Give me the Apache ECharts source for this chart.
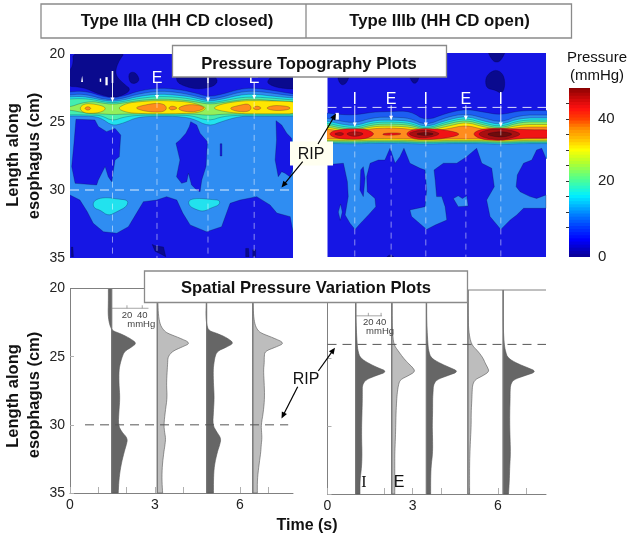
<!DOCTYPE html>
<html><head><meta charset="utf-8">
<style>html,body{margin:0;padding:0;background:#fff}#c{width:627px;height:537px}</style>
<script src="https://cdn.jsdelivr.net/npm/echarts@6/dist/echarts.min.js"></script>
</head><body><div id="c"></div>
<script>
// ---------- contour colours, low to high pressure ----------
const navy='#0a0a8e', blue='#1616e4', mid='#1c5ef2', light='#2f8df2', cyan='#22e2ee', teal='#44eeb0',
      lime='#92f05c', yellow='#ffe600', orange='#ff8c1e', red='#f01414', dark='#a81010', darkest='#6e0c0c';
const FONT='"Liberation Sans",Arial,sans-serif';

// ---------- Type IIIa topography: contour boundaries, depth (cm) at each time (s) ----------
const aTimes=[0,.4,.8,1.1,1.5,1.9,2.4,3.1,3.7,4.3,4.9,5.4,6,6.5,7.1,7.87];
const aMidTop=[22.79,22.72,22.87,23.09,23.24,23.09,22.72,22.5,22.57,22.79,23.16,22.94,22.57,22.5,22.65,22.94];
const aLightTop=[23.01,22.94,23.09,23.28,23.38,23.24,22.94,22.72,22.79,23.01,23.35,23.16,22.79,22.72,22.87,23.09];
const aCyanTop=[23.16,23.12,23.24,23.38,23.49,23.38,23.12,22.94,23.01,23.16,23.49,23.31,23.01,22.94,23.09,23.24];
const aTealTop=[23.31,23.27,23.35,23.49,23.6,23.49,23.27,23.12,23.16,23.31,23.6,23.46,23.2,23.16,23.24,23.38];
const aLimeTop=[23.9,23.6,23.49,23.6,23.71,23.6,23.42,23.31,23.35,23.46,23.71,23.57,23.38,23.31,23.42,23.53];
const aLimeLow=[24.12,24.28,24.4,24.4,24.46,24.42,24.4,24.4,24.4,24.4,24.52,24.42,24.4,24.4,24.4,24.4];
const aTealLow=[24.47,24.47,24.5,24.52,24.93,24.63,24.5,24.5,24.5,24.52,24.93,24.58,24.5,24.5,24.5,24.5];
const aCyanLow=[24.56,24.56,24.58,24.71,25.29,25.07,24.62,24.58,24.58,24.71,25.33,24.93,24.58,24.58,24.58,24.58];
const aLightLow=[[0,30.37],[.35,30.74],[.61,31.6],[.82,32.45],[1.18,33.07],[1.65,33.18],[2.06,32.7],[2.35,31.7],[2.59,30.86],[3.06,30.74],[3.41,30.49],[3.77,30.74],[3.98,31.7],[4.24,32.57],[4.82,33.07],[5.35,32.7],[5.65,30.98],[6,30.74],[6.59,30.49],[7.06,31.1],[7.3,31.7],[7.77,31.96],[7.87,33.07]];
const aNavy=[
 [[.09,19.7],[2,19.7],[1.67,20.69],[1.59,21.54],[1.88,22.16],[2.18,22.65],[1.76,23.14],[1.41,23.19],[.94,22.89],[.47,22.45],[-.2,22.35],[-.2,21.54],[.12,20.93]],
 [[2.06,21.4],[2.3,21.3],[2.47,21.9],[2.3,22.2],[2.1,22.1]],
 [[3.76,21.5],[5.06,21.5],[5.24,22.03],[5,22.45],[4.47,22.6],[4,22.35],[3.76,22.03]],
 [[6.94,22.03],[7.18,21.5],[8.1,21.5],[8.1,22.6],[7.41,22.52],[7.06,22.28]]
];
const aNavyStreaks=[
 [[.05,34.2],[.1,34.2],[.12,34.9],[.05,34.9]],
 [[2.9,34.0],[3.0,34.1],[3.3,34.2],[3.38,34.9],[3.2,34.7],[3.0,34.5]],
 [[6.2,34.3],[6.3,34.3],[6.32,34.9],[6.2,34.9]],
 [[6.45,34.4],[6.55,34.4],[6.55,34.9],[6.45,34.9]]
];
const aBlueIslands=[
 [[.21,24.8],[.88,24.85],[1,25.34],[1.29,25.71],[1.59,25.47],[1.79,25.96],[1.74,27.55],[1.59,27.79],[1.47,29.39],[1.35,29.02],[1.24,28.28],[1,29.26],[.94,29.63],[.18,29.51],[.06,28.28],[.14,26.57]],
 [[4.26,24.98],[4.47,25.22],[4.59,25.83],[4.85,26.45],[4.8,28.28],[4.65,29.26],[4.59,30.12],[4.47,30],[4.29,29.63],[4.18,28.77],[4.12,29.39],[3.94,29.51],[3.76,29.02],[3.88,27.79],[3.74,26.57],[3.88,26.32],[4.09,25.83],[4.21,25.34]],
 [[7.27,24.9],[7.47,25.22],[7.65,25.83],[7.82,26.2],[7.9,28.28],[7.76,29.02],[7.59,28.77],[7.47,28.65],[7.35,29.02],[7.24,27.79],[7.29,26.32]],
 [[5.3,26.6],[5.36,26.6],[5.36,27.5],[5.3,27.5]]
];
const aCyanIslands=[
 [[.8,30.98],[.94,30.66],[1.29,30.54],[1.65,30.66],[2.06,30.74],[2,31.23],[1.65,31.6],[1.35,31.91],[1.06,31.47],[.86,31.35]],
 [[4.18,30.74],[4.5,30.6],[5,30.7],[5.29,30.75],[5.27,31.1],[5,31.3],[4.7,31.6],[4.4,31.4],[4.2,31.15]]
];
const aSpecks=[
 [[.39,22.05],[.43,21.6],[.46,22.05]],
 [[1.05,21.8],[1.1,21.8],[1.1,22.05],[1.05,22.05]],
 [[1.25,21.7],[1.33,21.7],[1.33,22.3],[1.25,22.3]]
];
const aYellow=[
 [[.32,24],[.5,23.64],[.88,23.68],[1.24,23.88],[1.24,24.14],[.95,24.36],[.5,24.36]],
 [[1.66,24],[2,23.62],[2.47,23.5],[3.07,23.42],[3.71,23.46],[4.24,23.54],[4.66,23.8],[4.82,24],[4.58,24.3],[4.06,24.38],[3.18,24.4],[2.47,24.38],[2,24.3]],
 [[5.02,24],[5.32,23.68],[6,23.46],[6.5,23.42],[7.13,23.46],[8.1,23.5],[8.1,24.4],[7.13,24.4],[6.5,24.4],[6,24.38],[5.4,24.22]]
];
const aOrange=[
 [[.5,24],[.63,23.84],[.76,24],[.63,24.16]],
 [[2.26,23.97],[2.6,23.76],[3.07,23.6],[3.36,23.72],[3.42,24.08],[3.22,24.29],[2.7,24.24]],
 [[3.46,23.97],[3.6,23.8],[3.82,23.97],[3.6,24.16]],
 [[3.78,23.97],[4.16,23.7],[4.58,23.76],[4.78,24],[4.42,24.26],[3.98,24.22]],
 [[5.6,23.97],[6,23.76],[6.3,23.64],[6.42,23.97],[6.28,24.26],[5.85,24.22]],
 [[6.43,23.97],[6.6,23.8],[6.78,23.97],[6.6,24.14]],
 [[6.88,23.97],[7.2,23.76],[7.76,23.86],[7.76,24.1],[7.2,24.18]]
];

// ---------- Type IIIb topography ----------
const bTimes=[0,.44,.96,1.61,2.24,2.91,3.46,4.2,4.87,5.49,6.1,6.78,7.69];
const bMidTop=[24.41,24.52,24.56,24.34,24.3,24.26,25,24.41,24.12,24.34,24.56,24.23,24.23];
const bLightTop=[24.78,25,25.15,24.74,24.71,24.78,25.33,24.71,24.45,24.78,25.11,24.56,24.56];
const bCyanTop=[25,25.22,25.37,24.96,24.93,25,25.48,24.93,24.63,25,25.29,24.78,24.78];
const bTealTop=[25.15,25.37,25.51,25.11,25.07,25.15,25.59,25.07,24.78,25.15,25.44,24.93,24.93];
const bLimeTop=[25.29,25.51,25.63,25.26,25.22,25.29,25.66,25.22,24.93,25.29,25.55,25.07,25.07];
const bYellowTop=[25.44,25.63,25.7,25.4,25.37,25.44,25.74,25.4,25.07,25.44,25.63,25.26,25.26];
const bOrangeTop=[25.59,25.74,25.77,25.55,25.51,25.59,25.81,25.59,25.29,25.63,25.7,25.44,25.44];
const bOrangeLow=[26.32,26.32,26.34,26.29,26.29,26.32,26.36,26.32,26.32,26.32,26.4,26.32,26.32];
const bYellowLow=[26.43,26.43,26.45,26.41,26.41,26.43,26.47,26.43,26.43,26.43,26.5,26.43,26.43];
const bLimeLow=[26.52,26.52,26.54,26.5,26.5,26.52,26.56,26.52,26.52,26.52,26.58,26.52,26.52];
const bTealLow=[26.59,26.59,26.61,26.57,26.57,26.59,26.62,26.59,26.59,26.59,26.64,26.59,26.59];
const bCyanLow=[26.66,26.66,26.68,26.64,26.64,26.66,26.7,26.66,26.66,26.66,26.72,26.66,26.66];
const bLightLow=[[0,28.24],[.26,28.16],[.56,28.11],[.7,29.46],[.73,30.56],[.62,31.91],[.79,32.52],[.97,32.97],[1.14,32.57],[1.44,31.91],[1.7,31.3],[1.67,30.69],[1.4,30.2],[1.38,29.09],[1.5,28.11],[1.79,27.87],[2.02,27.87],[2.2,27.01],[2.38,28.11],[2.55,27.62],[2.69,27.01],[2.9,28.11],[3.26,28.48],[3.43,28.6],[3.49,30.07],[3.43,31.3],[2.9,31.54],[2.96,32.03],[3.49,32.97],[3.79,32.65],[4.2,32.28],[4.14,31.3],[4.02,30.56],[3.84,30.56],[3.79,29.34],[3.75,28.6],[4.08,28.11],[4.55,28.11],[4.9,27.62],[5.25,27.01],[5.43,28.11],[5.78,28.48],[5.87,29.83],[5.6,30.81],[5.72,32.03],[6.1,32.97],[6.43,32.28],[6.66,31.91],[6.9,31.42],[7.69,31.42],[7.69,30.44],[7.36,30.69],[7.13,30.56],[6.78,30.2],[6.64,29.83],[6.68,28.97],[6.9,28.11],[7.19,27.87],[7.36,27.13],[7.54,27.01],[7.69,27.75]];
const bNavy=[
 [[5.55,21.99],[5.66,21.5],[5.96,21.2],[6.21,21.62],[6.25,22.48],[6.13,23.01],[5.9,22.72],[5.6,22.6]],
 [[5.6,19.7],[6.31,19.7],[6.1,20.6],[5.9,20.7],[5.75,20.4]],
 [[.32,21.6],[.79,21.6],[.65,22.3],[.45,22.35]],
 [[2.85,21.6],[3.26,21.6],[3.15,22.2],[3,22.25]],
 [[2,35.2],[2.45,35.2],[2.2,34.75]]
];
const bLightIslands=[
 [[4.43,30.7],[4.6,30.5],[4.75,30.7],[4.9,30.5],[4.95,31.25],[4.6,31.3]],
 [[.38,31.7],[.46,31.1],[.52,31.7],[.45,32.3]]
];
const bBlueFingers=[[[1.17,28.6],[1.26,28.36],[1.32,29.22],[1.26,30.56],[1.14,30.07]]];
const bSpecks=[[[.28,24.4],[.4,24.4],[.4,24.9],[.28,24.9]]];
const bRed=[
 [[.02,25.95],[.3,25.64],[.96,25.54],[1.4,25.62],[1.68,25.95],[1.4,26.29],[.96,26.36],[.3,26.29]],
 [[2.73,25.95],[3,25.61],[3.5,25.54],[4.2,25.66],[4.75,25.97],[4.2,26.26],[3.5,26.39],[3,26.32]],
 [[5.08,25.95],[5.4,25.58],[6.1,25.51],[6.8,25.64],[8.1,25.64],[8.1,26.26],[6.8,26.26],[6.1,26.46],[5.4,26.36]],
 [[1.95,25.9],[2.55,25.86],[2.6,26.02],[1.95,26.06]]
];
const bDark=[
 [[.2,25.95],[.45,25.82],[.6,25.95],[.45,26.1]],
 [[.6,25.95],[.96,25.74],[1.34,25.95],[.96,26.18]],
 [[2.8,25.95],[3.1,25.72],[3.46,25.64],[3.85,25.82],[3.96,25.98],[3.6,26.21],[3.2,26.25]],
 [[5.25,25.97],[5.6,25.64],[6.1,25.56],[6.55,25.72],[6.84,25.97],[6.5,26.24],[6.1,26.39],[5.6,26.29]]
];
const bDarkest=[
 [[3.05,25.95],[3.46,25.82],[3.8,25.95],[3.46,26.1]],
 [[5.5,25.97],[6.1,25.74],[6.6,25.97],[6.1,26.24]]
];

// ---------- event lines on the topography plots ----------
const aEvents=[['I',1.5,23.5],['E',3.07,23.3],['I',4.87,23.5],['E',6.5,23.3]];
const bEvents=[['I',.96,25.4],['E',2.24,24.9],['I',3.46,25.4],['E',4.87,24.9],['I',6.1,25.4]];

// ---------- spatial pressure profiles (mmHg by depth) ----------
const aDepths=[20,21,22,22.7,23.1,23.3,23.6,24,24.3,24.6,25,25.5,26,27,28,29,30,30.5,31,31.5,32,33,34,35];
const aBaselines=[1.47,3.08,4.82,6.45];
const aProfile1=[-4.3,-4.3,-4.7,-2.5,1,11,22,33,26,17,13.8,11.2,9.5,9.5,10.8,9.5,8.6,12.9,21,19,16.3,12,9.5,8.6];
const aProfile2=[.8,.8,1.5,4,9,14,28,44,32,20,14,13.5,13,12,13,10.5,8.6,9.5,11,10,8.6,6.5,6,7];
const aProfile3=[-.4,-.4,-1,.3,3,14,26,36,26,14,11,9.5,8.6,9,10,9,8,13,19,17,14,10,9,9];
const aProfile4=[.4,.4,1,3,7,12,26,42,30,16,15,15,14,15,15.5,14,11,11.5,12,11,10.5,8,6,6];
const bDepths=[20,21,22,23,24,24.5,25,25.4,25.7,26,26.3,26.6,27,27.5,28,29,30,31,32,33,34,35];
const bBaselines=[.99,2.26,3.48,4.94,6.18];
const bProfile1=[.5,.5,.5,1.2,2.4,3.7,7.3,20.7,34,50,31.7,15.9,10.5,10.5,10.5,10,9.4,9.4,10,9.4,6.8,6.8];
const bProfile2=[.7,.7,.7,1.2,3,10.5,18.3,26.2,33,37,26.2,13.2,10.5,8.9,7.9,6.8,6.3,5.7,4.8,4.8,4.8,4.8];
const bProfile3=[.5,.5,.5,1.2,2.4,3.7,7.3,22,36.6,51,33,15.9,11,10.5,9.8,9.8,9.2,9.8,9.8,7.3,6.7,6.7];
const bProfile4=[.5,.5,.7,1.2,5.2,15.9,23.8,27.5,31,33.5,23.8,11,7.3,6.7,6.3,5.2,5.2,4.1,3.2,2.7,2.7,2.7];
const bProfile5=[.2,.2,.2,.5,1.8,3.7,7.3,22,37.8,53,34,15.9,11.6,11,11,10.4,10.4,11,11.6,10.4,9.8,8.5];
const aSecondsPerMmHg=.027, bSecondsPerMmHg=.0224;
const scaleBarTicks=[20,40];

// ---------- colour bar ----------
const barLevels=[-4.5,-3.5,-2.5,-1.5,-.5,.5,1.5,2.5,3.5,4.5,5.5,6.5,7.5,8.5,9.5,10.5,11.5,12.5,13.5,14.5,15.5,16.5,17.5,18.5,19.5,20.5,21.5,22.5,23.5,24.5,25.5,26.5,27.5,28.5,29.5,30.5,31.5,32.5,33.5,34.5,35.5,36.5,37.5,38.5,39.5,40.5,41.5,42.5,43.5,44.5,45.5,46.5,47.5,48.5,49.5];
const barRamp=['#0a0090','#0000ff','#0040ff','#0080ff','#00c0ff','#00f0ff','#50ff90','#b0ff30','#ffff00','#ffc000','#ff9000','#ff4000','#ff1010','#c00808','#800000'];
const barStops=[0,.1,.18,.25,.31,.36,.456,.55,.63,.69,.75,.81,.87,.94,1];
const barTicks=[5,10,15,20,25,30,35,40,45];

// ---------- helpers that turn the arrays into rings ----------
const zip=(t,z)=>t.map((v,i)=>[v,z[i]]);
function rounded(pts,closed,n){   // corner rounding of a drawn outline, drawing only
  let p=pts;
  for(let it=0;it<n;it++){
    const o=[];const m=p.length;
    if(!closed)o.push(p[0]);
    for(let i=0;i<(closed?m:m-1);i++){
      const a=p[i],b=p[(i+1)%m];
      o.push([.75*a[0]+.25*b[0],.75*a[1]+.25*b[1]],[.25*a[0]+.75*b[0],.25*a[1]+.75*b[1]]);
    }
    if(!closed)o.push(p[m-1]);
    p=o;
  }
  return p;
}
const past=(pts)=>[[pts[0][0]-.4,pts[0][1]],...pts,[pts[pts.length-1][0]+.4,pts[pts.length-1][1]]];
const band=(t,up,lo,color)=>({color,pts:rounded(past(zip(t,up)),false,2).concat(rounded(past(zip(t,lo)),false,2).reverse())});
const bandTo=(t,up,lowPts,color)=>({color,pts:rounded(past(zip(t,up)),false,2).concat(past(lowPts).reverse())});
const islands=(list,color)=>list.map(pts=>({color,pts:rounded(pts,true,2)}));
const plain=(list,color)=>list.map(pts=>({color,pts}));
const deep=(t,v)=>t.map(()=>v);
const specks=(list)=>list.map(pts=>({color:'#fff',pts,bare:true}));

const aRings=[
 ...islands(aNavy,navy),
 band(aTimes,aMidTop,deep(aTimes,25),mid),
 bandTo(aTimes,aLightTop,aLightLow,light),
 ...plain(aNavyStreaks,navy),
 ...plain(aBlueIslands,blue),
 ...islands(aCyanIslands,cyan),
 band(aTimes,aCyanTop,aCyanLow,cyan),
 band(aTimes,aTealTop,aTealLow,teal),
 band(aTimes,aLimeTop,aLimeLow,lime),
 ...islands(aYellow,yellow),
 ...islands(aOrange,orange),
 ...specks(aSpecks)
];
const bRings=[
 ...islands(bNavy,navy),
 band(bTimes,bMidTop,deep(bTimes,27),mid),
 bandTo(bTimes,bLightTop,bLightLow,light),
 ...plain(bLightIslands,light),
 ...plain(bBlueFingers,blue),
 band(bTimes,bCyanTop,bCyanLow,cyan),
 band(bTimes,bTealTop,bTealLow,teal),
 band(bTimes,bLimeTop,bLimeLow,lime),
 band(bTimes,bYellowTop,bYellowLow,yellow),
 band(bTimes,bOrangeTop,bOrangeLow,orange),
 ...islands(bRed,red),
 ...islands(bDark,dark),
 ...islands(bDarkest,darkest),
 ...specks(bSpecks)
];

function contourSeries(gi,rings){
  return {type:'custom',xAxisIndex:gi,yAxisIndex:gi,clip:true,silent:true,animation:false,z:2,
    data:rings.map((r,i)=>[i]),encode:{x:0,y:0},
    renderItem(p,api){
      const r=rings[p.dataIndex];
      return {type:'polygon',shape:{points:r.pts.map(q=>api.coord(q))},
        style:r.bare?{fill:r.color}:{fill:r.color,stroke:'rgba(5,5,40,.7)',lineWidth:.35}};
    }};
}
function baseSeries(gi,tmax){
  return {type:'custom',xAxisIndex:gi,yAxisIndex:gi,silent:true,animation:false,z:1,data:[[0]],encode:{x:0,y:0},
    renderItem(p,api){
      const a=api.coord([0,20]),b=api.coord([tmax,35]);
      return {type:'rect',shape:{x:a[0],y:a[1],width:b[0]-a[0],height:b[1]-a[1]},style:{fill:blue}};
    }};
}
function eventSeries(gi,events,labelZ,arrowFromZ,ripZ,tmax){
  return {type:'custom',xAxisIndex:gi,yAxisIndex:gi,silent:true,animation:false,z:5,
    data:events.map((e,i)=>[i]),encode:{x:0,y:0},
    renderItem(p,api){
      const [txt,t,tip]=events[p.dataIndex];
      const L=api.coord([t,labelZ]),F=api.coord([t,arrowFromZ]),T=api.coord([t,tip]),B=api.coord([t,35]);
      const kids=[
        {type:'line',shape:{x1:F[0],y1:F[1],x2:T[0],y2:T[1]},style:{stroke:'rgba(255,255,255,.9)',lineWidth:1}},
        {type:'polygon',shape:{points:[[T[0]-2,T[1]-4],[T[0]+2,T[1]-4],[T[0],T[1]]]},style:{fill:'#fff'}},
        {type:'line',shape:{x1:T[0],y1:T[1]+3,x2:B[0],y2:B[1]},style:{stroke:'rgba(255,255,255,.5)',lineWidth:1,lineDash:[6,5]}},
        {type:'text',style:{text:txt,x:L[0],y:L[1]+1.5,fill:'#fff',font:'16px '+FONT,textAlign:'center',textVerticalAlign:'middle',align:'center',verticalAlign:'middle'}}
      ];
      if(p.dataIndex===0){
        const R1=api.coord([0,ripZ]),R2=api.coord([tmax,ripZ]);
        kids.push({type:'line',shape:{x1:R1[0],y1:R1[1],x2:R2[0],y2:R2[1]},style:{stroke:'rgba(255,255,255,.85)',lineWidth:1,lineDash:[9,6]}});
      }
      return {type:'group',children:kids};
    }};
}
function profileSeries(gi,depths,baselines,profiles,colors,scale,ripZ,ripFrom,tmax,barBase,barZ,barEnd){
  return [{type:'custom',xAxisIndex:gi,yAxisIndex:gi,silent:true,animation:false,z:3,
    data:profiles.map((e,i)=>[i]),encode:{x:0,y:0},
    renderItem(p,api){
      const i=p.dataIndex,b=baselines[i];
      const line=rounded(profiles[i].map((v,k)=>[b+v*scale,depths[k]]),false,2);
      const a=api.coord([b,20]),c=api.coord([b,35]);
      return {type:'group',children:[
        {type:'polygon',shape:{points:[a,...line.map(q=>api.coord(q)),c]},style:{fill:colors[i],stroke:'#555',lineWidth:.6}},
        {type:'line',shape:{x1:a[0],y1:a[1],x2:c[0],y2:c[1]},style:{stroke:'#777',lineWidth:1.2}}
      ]};
    }},
   {type:'custom',xAxisIndex:gi,yAxisIndex:gi,silent:true,animation:false,z:4,data:[[0]],encode:{x:0,y:0},
    renderItem(p,api){
      const T1=api.coord([0,20]),T2=api.coord([tmax,20]);
      const R1=api.coord([ripFrom,ripZ]),R2=api.coord([gi===2?7.7:tmax,ripZ]);
      const B1=api.coord([barBase,barZ]),B2=api.coord([barEnd,barZ]);
      const kids=[
        {type:'line',shape:{x1:T1[0],y1:T1[1],x2:T2[0],y2:T2[1]},style:{stroke:'#808080',lineWidth:1}},
        {type:'line',shape:{x1:R1[0],y1:R1[1],x2:R2[0],y2:R2[1]},style:{stroke:'#555',lineWidth:1,lineDash:[9,6]}},
        {type:'line',shape:{x1:B1[0],y1:B1[1],x2:B2[0],y2:B2[1]},style:{stroke:'#808080',lineWidth:.7}}
      ];
      scaleBarTicks.forEach(v=>{
        const q=api.coord([barBase+v*scale,barZ]);
        kids.push({type:'line',shape:{x1:q[0],y1:q[1]-3,x2:q[0],y2:q[1]},style:{stroke:'#808080',lineWidth:.7}});
        kids.push({type:'text',style:{text:String(v),x:q[0],y:q[1]+7,fill:'#444',font:'9.5px '+FONT,textAlign:'center',textVerticalAlign:'middle',align:'center',verticalAlign:'middle'}});
      });
      const m=api.coord([barBase+40*scale,barZ]);
      kids.push({type:'text',style:{text:'mmHg',x:m[0]+13,y:m[1]+16,fill:'#444',font:'9.5px '+FONT,textAlign:'right',textVerticalAlign:'middle',align:'right',verticalAlign:'middle'}});
      return {type:'group',children:kids};
    }}];
}

const xAx=(gi,max)=>({gridIndex:gi,type:'value',min:0,max,interval:1,
  axisLine:{show:true,onZero:false,lineStyle:{color:'#808080',width:1}},
  axisTick:{show:true,inside:true,length:6,lineStyle:{color:'#b0b0b0'}},splitLine:{show:false},
  axisLabel:{show:true,color:'#222',fontSize:14,fontFamily:FONT,margin:5,hideOverlap:false,showMaxLabel:false,formatter:v=>v%3===0?String(v):''}});
const yAx=(gi,labels,show)=>({gridIndex:gi,type:'value',min:20,max:35,interval:5,inverse:true,
  axisLine:{show:show,onZero:false,lineStyle:{color:'#808080',width:1}},
  axisTick:{show:show,inside:true,length:4,lineStyle:{color:'#b0b0b0'}},splitLine:{show:false},
  axisLabel:{show:labels,color:'#222',fontSize:14,fontFamily:FONT,margin:5}});

// ---------- annotation drawing (boxes, titles, arrows) ----------
const box=(x,y,w,h,stroke,fill)=>({type:'rect',z:50,silent:true,shape:{x,y,width:w,height:h},style:{fill:fill||'#fff',stroke:stroke||'#8a8a8a',lineWidth:1.3}});
const txt=(s,x,y,size,bold,rot)=>({type:'text',z:51,silent:true,x,y,rotation:rot||0,
  style:{text:s,fill:'#111',font:(bold?'bold ':'')+size+'px '+FONT,textAlign:'center',textVerticalAlign:'middle',align:'center',verticalAlign:'middle'}});
function arrow(x1,y1,x2,y2){
  const a=Math.atan2(y2-y1,x2-x1),l=7,w=.42;
  return [{type:'line',z:52,silent:true,shape:{x1,y1,x2:x2-Math.cos(a)*4,y2:y2-Math.sin(a)*4},style:{stroke:'#000',lineWidth:1.2}},
    {type:'polygon',z:52,silent:true,shape:{points:[[x2,y2],[x2-l*Math.cos(a-w),y2-l*Math.sin(a-w)],[x2-l*Math.cos(a+w),y2-l*Math.sin(a+w)]]},style:{fill:'#000'}}];
}
const RA=Math.PI/2;
const serifI=txt('I',364,483,16,false);
serifI.style.font='16px "Liberation Serif",serif';
const graphics=[
 box(41,4,530.5,34),
 {type:'line',z:51,silent:true,shape:{x1:306,y1:4,x2:306,y2:38},style:{stroke:'#8a8a8a',lineWidth:1.3}},
 txt('Type IIIa (HH CD closed)',177,21.5,16.8,true),
 txt('Type IIIb (HH CD open)',439.5,21.5,16.8,true),
 box(172.5,45.5,274,31.5),
 txt('Pressure Topography Plots',309,64.5,16.6,true),
 box(144.5,271,323,31.5),
 txt('Spatial Pressure Variation Plots',306,288.5,16.6,true),
 {type:'rect',z:50,silent:true,shape:{x:290,y:141.5,width:43,height:24},style:{fill:'#fffff0'}},
 txt('RIP',311,154.5,16,false),
 ...arrow(302.7,161.7,281.5,187.5),
 ...arrow(318,144,336,113.5),
 txt('RIP',306,379.5,16,false),
 ...arrow(297.7,386.7,281.5,418.5),
 ...arrow(318.3,371,335,347.7),
 txt('Length along',13.5,155,16.5,true,RA),
 txt('esophagus (cm)',34,156,16.5,true,RA),
 txt('Length along',13.5,396,16.5,true,RA),
 txt('esophagus (cm)',34,395,16.5,true,RA),
 txt('Time (s)',307,525.5,16,true),
 txt('Pressure',597,58,15,false),
 txt('(mmHg)',597,76,15,false),
 serifI,
 txt('E',399,483,16,false)
];

const option={
  animation:false,backgroundColor:'#fff',
  grid:[
    {left:70,top:54,width:223,height:204},
    {left:327.5,top:53,width:218.5,height:204},
    {left:70,top:288.5,width:223,height:204.5},
    {left:327.5,top:290,width:218.5,height:204},
    {left:569,top:88,width:21,height:169}
  ],
  xAxis:[
    {gridIndex:0,type:'value',min:0,max:7.87,show:false},
    {gridIndex:1,type:'value',min:0,max:7.69,show:false},
    xAx(2,7.87),xAx(3,7.69),
    {gridIndex:4,type:'value',min:0,max:1,show:false}
  ],
  yAxis:[
    yAx(0,true,false),yAx(1,false,false),yAx(2,true,true),yAx(3,false,true),
    {gridIndex:4,type:'value',min:-4.5,max:50,position:'right',
     axisLine:{show:false},splitLine:{show:false},
     axisTick:{show:true,inside:true,length:3,customValues:barTicks,lineStyle:{color:'#333'}},
     axisLabel:{color:'#222',fontSize:15,fontFamily:FONT,margin:8,customValues:[-4.5,20,40],formatter:v=>v<0?'0':String(v)}}
  ],
  graphic:{elements:graphics},
  series:[
    baseSeries(0,7.87),contourSeries(0,aRings),eventSeries(0,aEvents,21.7,22.1,30,7.87),
    baseSeries(1,7.69),contourSeries(1,bRings),eventSeries(1,bEvents,23.3,23.85,24,7.69),
    ...profileSeries(2,aDepths,aBaselines,[aProfile1,aProfile2,aProfile3,aProfile4],['#666','#bdbdbd','#666','#bdbdbd'],aSecondsPerMmHg,30,.53,7.87,1.47,21.45,2.77),
    ...profileSeries(3,bDepths,bBaselines,[bProfile1,bProfile2,bProfile3,bProfile4,bProfile5],['#666','#bdbdbd','#666','#bdbdbd','#666'],bSecondsPerMmHg,24,0,7.69,.99,21.9,1.92),
    {type:'custom',xAxisIndex:4,yAxisIndex:4,silent:true,animation:false,data:barLevels.map(v=>[v]),encode:{y:0},
     renderItem(p,api){
       const v=barLevels[p.dataIndex];
       const a=api.coord([0,Math.min(v+1.4,50)]),b=api.coord([1,v]);
       const f=(v+5)/55;
       let k=0; while(k<barStops.length-2&&f>barStops[k+1])k++;
       const c=echarts.color.lerp((f-barStops[k])/(barStops[k+1]-barStops[k]),[barRamp[k],barRamp[k+1]]);
       return {type:'rect',shape:{x:a[0],y:a[1],width:b[0]-a[0],height:b[1]-a[1]},style:{fill:c}};
     }}
  ]
};
echarts.init(document.getElementById('c'),null,{renderer:'canvas'}).setOption(option);
</script></body></html>
